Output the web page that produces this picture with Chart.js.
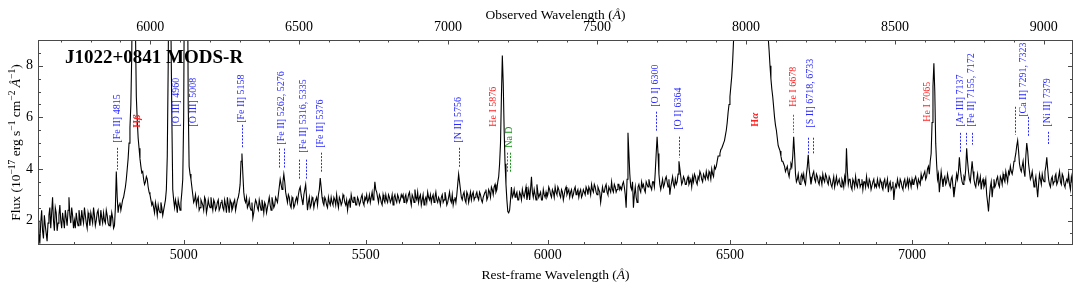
<!DOCTYPE html>
<html><head><meta charset="utf-8">
<script src="https://cdn.jsdelivr.net/npm/chart.js@4.4.1/dist/chart.umd.min.js"></script>
<style>html,body{margin:0;padding:0;background:#fff;}#wrap{width:1080px;height:290px;}</style>
</head><body><div id="wrap"><canvas id="c" width="1080" height="290"></canvas></div>
<script>
// ---- data ----
const WAVE_START = 4600, WAVE_STEP = 5;           // rest-frame grid (Angstrom); "half" arrays sit at +2.5
const ONE_PLUS_Z = 1.2225;
const REST_MIN = 4600, REST_MAX = 7442, FLUX_MIN = 1.05, FLUX_MAX = 9.0;
const restTicks = [5000, 5500, 6000, 6500, 7000];
const obsTicks = [6000, 6500, 7000, 7500, 8000, 8500, 9000];
const fluxTicks = [2, 4, 6, 8];

const flux4600 = [2.0,1.1,2.4,1.3,1.8,1.2,2.2,1.7,2.9,1.6,2.3,1.9,2.6,1.7,2.0,2.4,1.8,2.9,1.9,2.2,
                  2.0,2.3,1.8,2.1,2.4,1.9,2.2,1.7,2.1,2.3,1.9,2.2,2.0,2.4,1.8,2.1,2.3,1.9,2.2,1.8,
                  1.9,2.1,1.8,3.9,2.3,2.7,2.6,2.9,3.3,4.0,5.0,6.5,13,13,6.8,5.2,4.4,3.85,3.6,3.5,
                  3.6,3.1,2.8,2.7,2.3,2.5,2.6,2.3,2.5,2.4,2.8,4.5,13,13,3.2,2.5,2.6,2.8,2.4,3.1];
const half4600 = [1.5,1.9,1.6,2.2,1.5,1.9,2.5,2.3,2.0,2.5,1.6,2.2,2.0,2.3,1.7,2.1,2.4,2.2,2.5,1.7,
                  1.7,2.0,2.4,1.8,2.1,2.5,1.9,2.3,1.8,2.1,2.5,1.8,2.3,2.0,2.4,1.9,2.0,2.4,1.9,2.2,
                  2.3,1.7,2.5,2.9,2.6,2.4,2.8,3.1,3.6,4.4,5.6,8.5,13,9.5,5.9,4.8,4.1,3.9,3.4,3.7,
                  3.3,3.0,2.6,2.5,2.7,2.2,2.4,2.7,2.2,2.6,3.2,8.0,13,6.0,2.8,2.8,2.3,2.6,2.7,3.6];
const flux5000 = [6.0,13,13,4.1,3.6,3.0,2.8,2.6,2.9,2.5,2.7,2.4,2.8,2.5,2.6,2.9,2.4,2.7,2.5,2.8,
                  2.5,2.8,2.4,2.6,2.9,2.3,2.7,2.5,2.8,2.6,2.9,3.4,4.6,3.1,2.7,2.5,2.8,2.4,2.1,2.6,
                  2.7,2.4,2.6,2.8,2.3,2.6,2.5,2.9,2.4,2.7,2.6,2.8,3.0,3.6,3.2,3.8,3.1,2.7,2.9,2.5,
                  2.8,2.6,2.9,3.0,3.3,2.8,3.0,3.4,2.4,2.9,2.6,2.8,2.7,2.9,3.0,3.65,2.9,2.6,2.8,2.5,
                  2.7,2.9,2.6,2.8,3.0,2.5,2.8,2.7,2.9,2.6,2.4,2.8,3.0,2.7,2.9,2.6,2.8,2.7,3.0,2.6];
const half5000 = [13,13,6.5,3.8,3.3,2.7,3.0,2.8,2.4,2.8,2.6,2.9,2.3,2.8,2.5,2.6,2.8,2.4,2.7,2.4,
                  2.7,2.5,2.8,2.3,2.6,2.8,2.4,2.7,2.4,2.8,3.1,4.3,3.8,2.8,2.9,2.6,2.5,2.7,2.3,2.8,
                  2.5,2.8,2.4,2.6,2.7,2.3,2.7,2.6,2.9,2.5,2.9,2.7,3.3,3.4,3.5,3.5,2.9,3.0,2.6,2.9,
                  2.5,2.8,2.7,3.2,3.0,2.6,3.2,2.9,2.7,2.5,2.9,2.5,2.8,2.6,3.2,3.3,2.7,2.9,2.6,2.9,
                  2.6,2.7,2.9,2.6,2.7,2.9,2.6,3.0,2.7,2.8,2.7,2.5,2.8,2.9,2.6,2.9,2.6,2.9,2.7,2.9];
const flux5500 = [2.8,2.7,3.0,2.9,2.8,3.5,3.1,2.7,2.9,2.6,2.8,3.0,2.7,2.9,2.8,2.6,3.0,2.7,2.9,2.8,
                  2.9,2.7,3.0,2.8,3.1,2.6,2.9,3.2,2.8,2.7,3.0,2.8,2.6,2.9,3.1,2.8,2.7,3.0,2.9,2.8,
                  2.9,2.6,3.0,2.8,2.9,2.7,3.1,2.7,2.6,2.9,3.0,3.8,3.2,2.8,3.1,2.7,3.0,2.9,2.8,3.1,
                  2.9,3.1,2.8,3.0,2.7,3.0,3.2,2.9,3.1,3.3,3.0,3.4,3.2,3.7,5.0,8.4,5.5,3.4,2.35,2.4,
                  3.3,3.0,2.9,3.1,2.8,3.0,3.2,2.9,3.3,3.0,2.8,3.7,2.9,3.0,3.4,2.9,3.1,2.8,3.0,3.1];
const half5500 = [3.0,2.8,2.7,3.1,3.0,3.2,2.9,3.0,2.7,3.0,2.7,2.8,3.0,2.7,3.0,2.9,2.8,3.0,2.7,3.0,
                  3.0,2.9,2.7,3.0,2.8,3.0,2.7,2.9,3.1,2.9,2.6,3.0,2.8,2.7,2.9,3.0,2.9,2.7,3.1,2.7,
                  2.8,2.9,2.7,3.1,2.6,2.9,2.8,3.0,2.8,2.7,3.4,3.5,2.9,3.0,2.8,3.1,2.7,3.1,3.0,2.8,
                  3.0,2.9,3.1,2.8,2.9,3.1,2.8,3.2,2.9,3.2,3.3,3.1,3.5,4.2,6.8,7.3,4.2,2.8,2.3,2.8,
                  2.9,3.2,3.0,2.8,3.1,2.8,3.0,3.1,2.8,3.2,3.2,3.1,3.2,2.8,3.1,3.0,2.8,3.2,2.9,2.9];
const flux6000 = [3.0,3.2,2.9,3.1,3.3,3.0,3.2,2.9,3.1,3.0,3.3,3.1,2.9,3.2,3.0,3.3,3.1,2.9,3.2,3.0,
                  3.1,3.3,3.0,3.2,3.4,3.1,3.3,3.0,3.2,2.7,3.3,3.1,3.4,3.0,3.2,3.5,3.1,3.3,3.2,3.4,
                  3.3,3.4,3.3,2.5,5.4,3.8,3.2,2.5,3.3,2.7,3.4,3.1,3.3,3.2,3.5,3.3,3.4,3.2,3.5,3.9,
                  5.25,3.8,3.2,3.6,3.4,3.7,3.3,3.0,3.5,3.4,3.6,3.5,4.3,3.7,3.5,3.6,3.4,3.7,3.5,3.3,
                  3.5,3.7,3.4,3.6,3.8,3.5,3.7,3.9,3.6,3.8,4.0,3.7,4.0,4.3,4.5,4.75,4.9,5.1,5.5,6.2];
const half6000 = [3.3,3.0,3.2,2.9,3.1,3.3,3.0,3.2,2.8,3.2,3.0,3.2,3.1,2.9,3.2,3.0,3.2,3.1,2.9,3.2,
                  3.0,3.2,3.3,3.0,3.2,3.4,3.1,3.3,3.1,3.0,3.1,3.3,3.1,3.3,3.1,3.2,3.4,3.1,3.4,3.2,
                  3.2,3.5,3.0,3.6,4.6,3.3,3.5,3.0,2.9,3.3,3.2,3.5,3.4,3.1,3.4,3.6,3.3,3.5,3.3,4.6,
                  4.6,3.4,3.4,3.3,3.6,3.5,3.6,3.3,3.7,3.3,3.4,3.8,4.0,3.4,3.7,3.4,3.6,3.4,3.6,3.7,
                  3.8,3.5,3.7,3.9,3.6,3.8,3.6,3.7,3.9,3.6,3.8,4.1,4.1,4.5,4.6,4.8,5.0,5.3,5.8,6.5];
const flux6500 = [6.8,7.6,9.0,10.2,11.5,12.5,13.5,14,14.5,15,15.5,16,16.5,16,15.5,14.5,13.5,12.5,11.5,10.5,
                  9.8,9.1,8.0,7.1,6.4,5.7,5.2,4.8,4.5,4.3,4.1,4.0,3.85,4.0,4.1,5.25,3.8,3.6,3.5,3.7,
                  3.6,3.5,3.8,4.55,3.7,3.6,3.9,3.5,3.7,3.4,3.6,3.8,3.5,3.7,3.4,3.6,3.3,3.7,3.5,3.4,
                  3.6,3.3,3.5,3.7,4.8,3.4,3.6,3.2,3.5,3.7,3.3,3.6,3.4,3.2,3.5,3.7,3.3,3.5,3.2,3.6,
                  3.4,3.6,3.3,3.5,3.2,3.6,3.4,3.1,3.5,3.3,2.8,3.4,3.6,3.3,3.5,3.2,3.6,3.4,3.3,3.5];
const half6500 = [7.2,8.2,9.6,10.8,12,13,13.8,14.3,14.8,15.2,15.8,16.3,16.3,15.8,15,14,13,12,11,10.1,
                  9.4,8.6,7.5,6.8,6.0,5.5,4.9,4.7,4.3,4.2,3.9,4.1,3.7,4.2,4.5,4.6,3.5,3.8,3.4,3.8,
                  3.8,3.4,4.1,4.0,3.4,3.8,3.6,3.8,3.5,3.7,3.4,3.6,3.8,3.5,3.7,3.4,3.5,3.3,3.7,3.5,
                  3.4,3.6,3.3,3.5,3.9,3.6,3.3,3.6,3.3,3.4,3.6,3.3,3.6,3.5,3.3,3.4,3.6,3.2,3.5,3.3,
                  3.3,3.4,3.6,3.3,3.5,3.3,3.6,3.4,3.2,3.5,3.2,3.3,3.4,3.6,3.3,3.5,3.3,3.6,3.6,3.3];
const flux7000 = [3.6,3.4,3.7,3.3,3.5,3.8,3.6,3.9,3.7,4.1,4.3,5.8,8.1,5.0,3.6,3.1,3.9,3.3,3.7,3.5,
                  3.6,3.3,3.7,2.9,3.5,3.6,4.45,3.7,3.4,3.6,4.8,3.9,3.5,4.3,3.6,3.3,3.8,3.5,3.2,3.6,
                  3.4,3.0,2.35,3.3,2.9,3.6,3.4,3.7,3.3,3.6,3.8,3.5,3.7,3.9,4.1,3.8,4.3,4.6,5.1,4.2,
                  3.9,4.3,3.7,5.0,4.2,3.6,3.9,3.3,3.7,2.9,3.8,3.4,3.6,3.9,4.45,3.6,3.3,3.7,3.5,3.8,
                  3.5,3.9,3.4,3.7,3.3,3.6,3.8,3.2,3.5];
const half7000 = [3.4,3.6,3.5,3.6,3.4,3.6,3.8,3.6,4.0,3.8,4.6,7.2,7.0,4.2,3.8,3.5,3.6,3.6,3.4,3.8,
                  3.4,3.6,3.3,3.2,3.8,3.9,4.0,3.5,3.7,4.0,4.3,3.6,3.9,3.9,3.4,3.6,3.4,3.7,3.5,3.3,
                  3.6,2.7,2.9,3.5,3.3,3.3,3.6,3.4,3.7,3.4,3.6,3.9,3.5,3.8,3.9,4.0,4.4,4.9,4.7,4.0,
                  4.1,3.9,4.5,4.7,3.9,3.7,3.6,3.5,3.3,3.4,3.6,3.8,3.5,4.1,4.0,3.4,3.6,3.4,3.7,3.4,
                  3.7,3.5,3.8,3.4,3.5,3.5,3.4,3.7];

// line identifications: text, colour, wavelength of text, flux of text start, dashed markers [wave, fluxTop, fluxBottom]
const lineLabels = [
 {t:'[Fe II] 4815', c:'blue', w:4818, b:5.02, d:[[4818,4.82,3.97]]},
 {t:'Hβ', c:'red', w:4873, b:5.60, d:[], bold:true},
 {t:'[O III] 4960', c:'blue', w:4980, b:5.64, d:[]},
 {t:'[O III] 5008', c:'blue', w:5026, b:5.64, d:[]},
 {t:'[Fe II] 5158', c:'blue', w:5159, b:5.79, d:[[5159,5.71,4.82]]},
 {t:'[Fe II] 5262, 5276', c:'blue', w:5269, b:4.94, d:[[5262,4.79,4.05],[5276,4.79,4.05]]},
 {t:'[Fe II] 5316, 5335', c:'blue', w:5328, b:4.63, d:[[5316,4.36,3.62],[5335,4.36,3.62]]},
 {t:'[Fe II] 5376', c:'blue', w:5375, b:4.82, d:[[5376,4.63,3.86]]},
 {t:'[N II] 5756', c:'blue', w:5754, b:5.02, d:[[5756,4.82,4.05]]},
 {t:'He I 5876', c:'red', w:5850, b:5.64, d:[]},
 {t:'Na D', c:'green', w:5894, b:4.82, d:[[5888,4.63,3.86],[5896,4.63,3.86]]},
 {t:'[O I] 6300', c:'blue', w:6295, b:6.41, d:[[6297,6.22,5.44]]},
 {t:'[O I] 6364', c:'blue', w:6359, b:5.52, d:[[6359,5.25,4.44]]},
 {t:'Hα', c:'red', w:6569, b:5.64, d:[], bold:true},
 {t:'He I 6678', c:'red', w:6673, b:6.41, d:[[6673,6.10,5.40]]},
 {t:'[S II] 6718, 6733', c:'blue', w:6722, b:5.60, d:[[6714,5.21,4.55],[6728,5.21,4.55]]},
 {t:'He I 7065', c:'red', w:7042, b:5.83, d:[]},
 {t:'[Ar III] 7137', c:'blue', w:7132, b:5.64, d:[[7132,5.40,4.63]]},
 {t:'[Fe II] 7155, 7172', c:'blue', w:7162, b:5.64, d:[[7148,5.40,4.94],[7165,5.40,4.94]]},
 {t:'[Ca II] 7291, 7323', c:'blue', w:7307, b:6.02, d:[[7283,6.41,5.33],[7318,6.02,5.25]]},
 {t:'[Ni II] 7379', c:'blue', w:7372, b:5.64, d:[[7372,5.44,4.94]]}
];
const titleText = 'J1022+0841 MODS-R';

// ---- build ----
const mainAll = [].concat(flux4600, flux5000, flux5500, flux6000, flux6500, flux7000);
const halfAll = [].concat(half4600, half5000, half5500, half6000, half6500, half7000);
const spectrum = [];
mainAll.forEach((f, i) => {
  spectrum.push({x: WAVE_START + WAVE_STEP * i, y: f});
  if (i < halfAll.length) spectrum.push({x: WAVE_START + WAVE_STEP * i + WAVE_STEP / 2, y: halfAll[i]});
});

const SERIF = "'Liberation Serif', 'Times New Roman', serif";
const COLORS = {blue: '#2a2aff', red: '#ff2424', green: '#149414'};

function richWidth(ctx, segs){
  let w = 0;
  for (const s of segs){ ctx.font = s.font; w += ctx.measureText(s.t).width; }
  return w;
}
function drawRich(ctx, segs, x, y){
  for (const s of segs){
    ctx.font = s.font;
    ctx.fillText(s.t, x, y - (s.dy || 0));
    x += ctx.measureText(s.t).width;
  }
}

const decorPlugin = {
  id: 'decor',
  afterDatasetsDraw(chart){
    const ctx = chart.ctx;
    const xs = chart.scales.x, ys = chart.scales.y;
    ctx.save();
    for (const L of lineLabels){
      const col = COLORS[L.c];
      ctx.strokeStyle = col; ctx.lineWidth = 1; ctx.setLineDash([2, 1.4]);
      for (const d of L.d){
        const px = Math.round(xs.getPixelForValue(d[0])) + 0.5;
        ctx.beginPath(); ctx.moveTo(px, ys.getPixelForValue(d[1])); ctx.lineTo(px, ys.getPixelForValue(d[2])); ctx.stroke();
      }
      ctx.setLineDash([]);
      const px = xs.getPixelForValue(L.w), py = ys.getPixelForValue(L.b);
      ctx.save();
      ctx.translate(px, py); ctx.rotate(-Math.PI / 2);
      ctx.fillStyle = col; ctx.textBaseline = 'middle'; ctx.textAlign = 'left';
      const wt = L.bold ? 'bold ' : '';
      const segs = [];
      for (const ch of L.t){
        if (/[α-ω]/.test(ch)) segs.push({t: ch, font: 'italic ' + wt + '11px ' + SERIF});
        else segs.push({t: ch, font: wt + '10px ' + SERIF});
      }
      drawRich(ctx, segs, 0, 0);
      ctx.restore();
    }
    ctx.restore();
  },
  afterDraw(chart){
    const ctx = chart.ctx, ca = chart.chartArea;
    const xs = chart.scales.x, ys = chart.scales.y, xt = chart.scales.xTop;
    ctx.save();
    // frame
    ctx.strokeStyle = '#4a4a4a'; ctx.lineWidth = 1;
    ctx.strokeRect(Math.round(ca.left) + 0.5, Math.round(ca.top) + 0.5, Math.round(ca.right - ca.left) - 1, Math.round(ca.bottom - ca.top) - 1);
    // inward ticks
    ctx.beginPath();
    for (let v = 4600; v <= REST_MAX; v += 100){
      const p = Math.round(xs.getPixelForValue(v)) + 0.5, len = v % 500 === 0 ? 5 : 3;
      ctx.moveTo(p, ca.bottom); ctx.lineTo(p, ca.bottom - len);
    }
    for (let v = 5700; v <= REST_MAX * ONE_PLUS_Z; v += 100){
      const p = Math.round(xt.getPixelForValue(v)) + 0.5, len = v % 500 === 0 ? 4.5 : 2.5;
      ctx.moveTo(p, ca.top); ctx.lineTo(p, ca.top + len);
    }
    for (let v = 1.5; v <= FLUX_MAX; v += 0.5){
      const p = Math.round(ys.getPixelForValue(v)) + 0.5, len = v % 2 === 0 ? 5 : 3;
      ctx.moveTo(ca.left, p); ctx.lineTo(ca.left + len, p);
      ctx.moveTo(ca.right, p); ctx.lineTo(ca.right - len, p);
    }
    ctx.stroke();
    // title
    ctx.fillStyle = '#000'; ctx.textBaseline = 'alphabetic'; ctx.textAlign = 'left';
    ctx.font = 'bold 19px ' + SERIF;
    ctx.fillText(titleText, ca.left + 27, ca.top + 23);
    // axis titles
    const cx = (ca.left + ca.right) / 2;
    const nf = '13.5px ' + SERIF, itf = 'italic 13.5px ' + SERIF, sf = '9.5px ' + SERIF;
    const top = [{t:'Observed Wavelength (', font:nf}, {t:'Å', font:itf}, {t:')', font:nf}];
    drawRich(ctx, top, cx - richWidth(ctx, top) / 2, 19);
    const bot = [{t:'Rest-frame Wavelength (', font:nf}, {t:'Å', font:itf}, {t:')', font:nf}];
    drawRich(ctx, bot, cx - richWidth(ctx, bot) / 2, 279);
    const yl = [{t:'Flux (10', font:nf}, {t:'−17', font:sf, dy:5}, {t:' erg s', font:nf}, {t:'−1', font:sf, dy:5},
                {t:' cm', font:nf}, {t:'−2', font:sf, dy:5}, {t:' ', font:nf}, {t:'Å', font:itf}, {t:'−1', font:sf, dy:5}, {t:')', font:nf}];
    ctx.save();
    ctx.translate(20, (ca.top + ca.bottom) / 2); ctx.rotate(-Math.PI / 2);
    drawRich(ctx, yl, -richWidth(ctx, yl) / 2, 0);
    ctx.restore();
    ctx.restore();
  }
};

const tickFont = {family: SERIF, size: 14};
new Chart(document.getElementById('c'), {
  type: 'line',
  data: {datasets: [{data: spectrum, borderColor: '#000', borderWidth: 1.1, pointRadius: 0, tension: 0, fill: false, xAxisID: 'x', yAxisID: 'y'}]},
  options: {
    responsive: false, animation: false, devicePixelRatio: 1,
    layout: {padding: {left: 0, right: 7, top: 0, bottom: 0}},
    plugins: {legend: {display: false}, tooltip: {enabled: false}},
    scales: {
      x: {type: 'linear', position: 'bottom', min: REST_MIN, max: REST_MAX,
          grid: {display: false, drawTicks: false}, border: {display: false},
          afterBuildTicks: s => { s.ticks = restTicks.map(v => ({value: v})); },
          afterFit: s => { s.height = 45; },
          ticks: {color: '#000', font: tickFont, padding: 2, maxRotation: 0, autoSkip: false, callback: v => String(v)}},
      xTop: {type: 'linear', position: 'top', min: REST_MIN * ONE_PLUS_Z, max: REST_MAX * ONE_PLUS_Z,
          grid: {display: false, drawTicks: false}, border: {display: false},
          afterBuildTicks: s => { s.ticks = obsTicks.map(v => ({value: v})); },
          afterFit: s => { s.height = 40; },
          ticks: {color: '#000', font: tickFont, padding: 4, maxRotation: 0, autoSkip: false, callback: v => String(v)}},
      y: {type: 'linear', position: 'left', min: FLUX_MIN, max: FLUX_MAX,
          grid: {display: false, drawTicks: false}, border: {display: false},
          afterBuildTicks: s => { s.ticks = fluxTicks.map(v => ({value: v})); },
          afterFit: s => { s.width = 38; },
          ticks: {color: '#000', font: tickFont, padding: 5, callback: v => String(v)}}
    }
  },
  plugins: [decorPlugin]
});
</script></body></html>
